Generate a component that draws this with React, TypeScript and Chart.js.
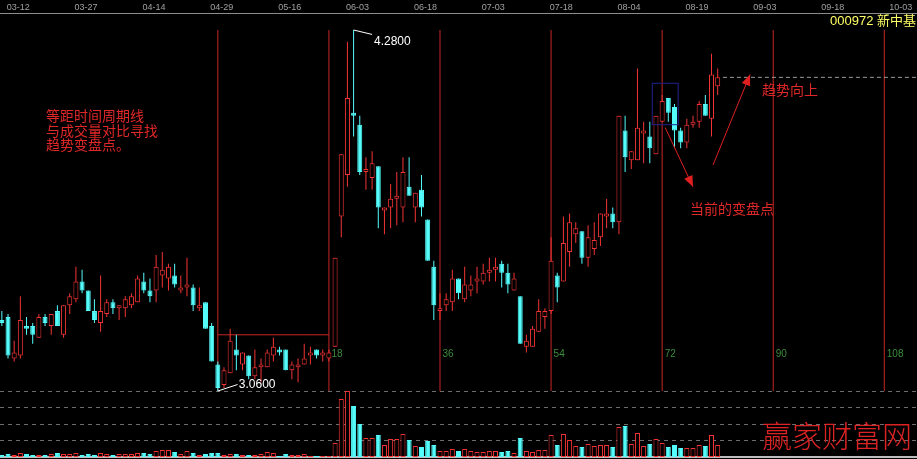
import React, { useEffect, useRef } from 'react';
import { Chart, registerables } from 'chart.js';
Chart.register(...registerables);

// ---- data ----
const opens = [
  3.30, 3.31, 3.17, 3.18, 3.28, 3.28, 3.24, 3.31, 3.28, 3.33,
  3.25, 3.35, 3.37, 3.43, 3.40, 3.33, 3.29, 3.32, 3.36, 3.34,
  3.34, 3.35, 3.36, 3.43, 3.40, 3.40, 3.45, 3.44, 3.45, 3.40,
  3.41, 3.41, 3.34, 3.36, 3.28, 3.15, 3.08, 3.12, 3.20, 3.15,
  3.18, 3.11, 3.14, 3.14, 3.18, 3.20, 3.20, 3.13, 3.14, 3.15,
  3.18, 3.20, 3.18, 3.17, 3.21, 3.65, 3.79, 4.00, 3.96, 3.80,
  3.78, 3.82, 3.67, 3.68, 3.71, 3.68, 3.75, 3.68, 3.74, 3.64,
  3.48, 3.33, 3.35, 3.36, 3.44, 3.37, 3.40, 3.43, 3.43, 3.46,
  3.47, 3.49, 3.46, 3.40, 3.38, 3.21, 3.21, 3.26, 3.31, 3.33,
  3.45, 3.43, 3.53, 3.59, 3.60, 3.51, 3.54, 3.58, 3.65, 3.66,
  3.63, 3.94, 3.84, 3.84, 3.93, 3.92, 3.86, 3.97, 4.05, 4.02,
  3.94, 3.90, 3.96, 3.97, 4.03, 3.98, 4.09,
];
const highs = [
  3.33, 3.32, 3.23, 3.38, 3.31, 3.29, 3.32, 3.32, 3.32, 3.35,
  3.35, 3.39, 3.48, 3.47, 3.40, 3.37, 3.45, 3.37, 3.37, 3.35,
  3.38, 3.39, 3.45, 3.46, 3.44, 3.52, 3.53, 3.49, 3.49, 3.45,
  3.51, 3.42, 3.41, 3.36, 3.29, 3.16, 3.14, 3.27, 3.25, 3.19,
  3.18, 3.20, 3.17, 3.20, 3.24, 3.21, 3.20, 3.16, 3.17, 3.22,
  3.21, 3.20, 3.20, 3.20, 3.51, 3.86, 4.24, 4.28, 3.99, 3.85,
  3.87, 3.82, 3.68, 3.76, 3.80, 3.85, 3.85, 3.73, 3.79, 3.64,
  3.50, 3.39, 3.39, 3.47, 3.44, 3.48, 3.45, 3.48, 3.49, 3.51,
  3.51, 3.50, 3.49, 3.46, 3.38, 3.25, 3.28, 3.37, 3.34, 3.58,
  3.46, 3.65, 3.66, 3.63, 3.60, 3.62, 3.63, 3.66, 3.71, 3.68,
  3.99, 3.99, 3.87, 4.15, 3.97, 3.97, 3.99, 4.06, 4.05, 4.03,
  3.95, 3.98, 3.99, 4.04, 4.06, 4.20, 4.15,
];
const lows = [
  3.28, 3.17, 3.16, 3.17, 3.25, 3.22, 3.24, 3.28, 3.25, 3.28,
  3.24, 3.32, 3.36, 3.39, 3.33, 3.29, 3.26, 3.31, 3.32, 3.30,
  3.31, 3.34, 3.36, 3.39, 3.36, 3.36, 3.41, 3.40, 3.41, 3.39,
  3.38, 3.33, 3.33, 3.27, 3.16, 3.06, 3.07, 3.12, 3.13, 3.13,
  3.10, 3.10, 3.09, 3.14, 3.16, 3.18, 3.13, 3.10, 3.09, 3.15,
  3.15, 3.17, 3.16, 3.16, 3.21, 3.58, 3.75, 3.92, 3.79, 3.74,
  3.74, 3.61, 3.59, 3.61, 3.62, 3.63, 3.72, 3.63, 3.65, 3.50,
  3.30, 3.30, 3.33, 3.33, 3.37, 3.36, 3.38, 3.39, 3.42, 3.43,
  3.43, 3.41, 3.39, 3.40, 3.22, 3.19, 3.21, 3.26, 3.27, 3.32,
  3.36, 3.43, 3.48, 3.56, 3.49, 3.48, 3.52, 3.55, 3.61, 3.61,
  3.59, 3.80, 3.81, 3.84, 3.83, 3.83, 3.86, 3.97, 3.97, 3.88,
  3.88, 3.88, 3.95, 3.95, 3.99, 3.92, 4.06,
];
const closes = [
  3.29, 3.18, 3.19, 3.30, 3.27, 3.25, 3.31, 3.29, 3.32, 3.28,
  3.35, 3.38, 3.43, 3.40, 3.33, 3.30, 3.33, 3.36, 3.34, 3.35,
  3.37, 3.38, 3.44, 3.40, 3.38, 3.48, 3.47, 3.48, 3.42, 3.41,
  3.42, 3.35, 3.35, 3.27, 3.16, 3.07, 3.13, 3.23, 3.18, 3.19,
  3.11, 3.14, 3.15, 3.19, 3.21, 3.19, 3.13, 3.15, 3.15, 3.17,
  3.19, 3.18, 3.19, 3.19, 3.51, 3.86, 4.05, 3.99, 3.80, 3.81,
  3.83, 3.68, 3.68, 3.71, 3.72, 3.80, 3.72, 3.73, 3.68, 3.50,
  3.35, 3.34, 3.37, 3.44, 3.39, 3.42, 3.42, 3.44, 3.46, 3.47,
  3.48, 3.46, 3.42, 3.44, 3.22, 3.23, 3.27, 3.33, 3.33, 3.50,
  3.41, 3.56, 3.63, 3.61, 3.51, 3.58, 3.57, 3.66, 3.66, 3.63,
  3.99, 3.85, 3.87, 3.95, 3.94, 3.88, 3.99, 4.04, 4.00, 3.94,
  3.90, 3.96, 3.97, 4.03, 3.99, 4.13, 4.12,
];
// volume, 万手
const volumes = [
  2, 3, 2, 4, 3, 2, 2, 2, 3, 4,
  3, 3, 4, 2, 3, 2, 4, 3, 2, 3,
  3, 3, 4, 4, 3, 6, 7, 7, 5, 3,
  6, 4, 2, 3, 4, 4, 2, 3, 3, 2,
  2, 2, 3, 5, 4, 1, 3, 2, 2, 3,
  1, 1, 1, 1, 14, 58, 66, 51, 33, 19,
  19, 22, 12, 18, 18, 23, 17, 11, 10, 16,
  12, 6, 6, 8, 6, 8, 6, 5, 5, 6,
  6, 5, 6, 4, 19, 6, 5, 7, 7, 22,
  12, 23, 17, 11, 10, 13, 11, 12, 12, 10,
  30, 31, 13, 24, 11, 13, 18, 14, 10, 12,
  9, 9, 9, 12, 11, 22, 12,
];
const dateLabels = ['03-12', '03-27', '04-14', '04-29', '05-16', '06-03', '06-18', '07-03', '07-18', '08-04', '08-19', '09-03', '09-18', '10-03'];
const dateTickIdx = [2, 13, 24, 35, 46, 57, 68, 79, 90, 101, 112, 123, 134, 145];
const cycleIdx = [35, 53, 71, 89, 107, 125, 143];
const cycleLabels = ['', '18', '36', '54', '72', '90', '108'];
const cycleRange = [3.06, 4.28];
const boxLevel = 3.25;
const lastLevel = 4.12;
const volGrid = [16.5, 33, 49.5, 66];
const stockTitle = '000972 新中基';
const noteLines = ['等距时间周期线', '与成交量对比寻找', '趋势变盘点。'];
const noteTurn = '当前的变盘点';
const noteUp = '趋势向上';
const highLabel = '4.2800';
const lowLabel = '3.0600';
const watermark = '赢家财富网';

// ---- styles ----
const RED = '#f43434';
const CYAN = '#54fcfc';
const CYCLE = '#c82626';
const TXT_RED = '#e02828';
const SLOTS_MIN = -0.3;
const SLOTS_MAX = 148.3;

const up = closes.map((c, i) => c >= opens[i]);

const annotations = {
  id: 'annotations',
  beforeDraw(chart: any) {
    const { ctx } = chart;
    ctx.save();
    ctx.fillStyle = '#000';
    ctx.fillRect(0, 0, chart.width, chart.height);
    ctx.restore();
  },
  afterDatasetsDraw(chart: any) {
    const { ctx } = chart;
    const x = chart.scales.x;
    const y = chart.scales.y;
    const px = (v: number) => x.getPixelForValue(v);
    const py = (v: number) => y.getPixelForValue(v);
    ctx.save();

    // cycle numbers
    ctx.font = '10px "Liberation Sans", Arial, sans-serif';
    ctx.fillStyle = '#3c8c3c';
    ctx.textAlign = 'left';
    ctx.textBaseline = 'middle';
    cycleIdx.forEach((c, k) => {
      if (cycleLabels[k]) ctx.fillText(cycleLabels[k], px(c) + 2.5, py(3.185));
    });

    // high / low labels
    ctx.strokeStyle = '#ffffff';
    ctx.lineWidth = 1;
    ctx.beginPath();
    ctx.moveTo(px(57), py(4.28));
    ctx.lineTo(px(60), py(4.265));
    ctx.stroke();
    ctx.beginPath();
    ctx.moveTo(px(35), py(3.06));
    ctx.lineTo(px(38.2), py(3.082));
    ctx.stroke();
    ctx.fillStyle = '#ffffff';
    ctx.font = '12px "Liberation Sans", Arial, sans-serif';
    ctx.fillText(highLabel, px(60.3), py(4.24));
    ctx.fillText(lowLabel, px(38.4), py(3.08));

    // blue box
    ctx.strokeStyle = '#22228c';
    ctx.strokeRect(px(105.4), py(4.10), px(109.6) - px(105.4), py(3.96) - py(4.10));

    // arrows
    const arrow = (x1: number, y1: number, x2: number, y2: number) => {
      ctx.strokeStyle = '#e02020';
      ctx.fillStyle = '#e02020';
      ctx.lineWidth = 1;
      ctx.beginPath();
      ctx.moveTo(x1, y1);
      ctx.lineTo(x2, y2);
      ctx.stroke();
      const a = Math.atan2(y2 - y1, x2 - x1);
      const L = 11, W = 4.5;
      ctx.beginPath();
      ctx.moveTo(x2, y2);
      ctx.lineTo(x2 - L * Math.cos(a) + W * Math.sin(a), y2 - L * Math.sin(a) - W * Math.cos(a));
      ctx.lineTo(x2 - L * Math.cos(a) - W * Math.sin(a), y2 - L * Math.sin(a) + W * Math.cos(a));
      ctx.closePath();
      ctx.fill();
    };
    arrow(px(107.5), py(3.95), px(112.0), py(3.75));
    arrow(px(115.25), py(3.824), px(121.25), py(4.13));

    // red notes
    ctx.fillStyle = TXT_RED;
    ctx.font = '14px "Noto Sans CJK SC", sans-serif';
    ctx.textBaseline = 'middle';
    noteLines.forEach((t, k) => ctx.fillText(t, px(7.15), py(3.99) + k * 14.5));
    ctx.fillText(noteTurn, px(111.5), py(3.675));
    ctx.fillText(noteUp, px(123.2), py(4.078));

    // title
    ctx.fillStyle = '#ffff66';
    ctx.font = '13px "Liberation Sans", "Noto Sans CJK SC", sans-serif';
    ctx.textAlign = 'right';
    ctx.fillText(stockTitle, chart.width - 1, chart.chartArea.top + 8);

    // watermark
    ctx.fillStyle = '#dc2222';
    ctx.font = '300 30px "Noto Sans CJK SC", sans-serif';
    ctx.fillText(watermark, chart.width - 5, chart.height - 23);

    ctx.restore();
  },
};

export default function App() {
  const ref = useRef<HTMLCanvasElement>(null);
  useEffect(() => {
    document.body.style.margin = '0';
    document.body.style.background = '#000';
    const barBase = {
      type: 'bar' as const,
      grouped: false,
      barPercentage: 1,
      categoryPercentage: 1,
      inflateAmount: 0,
      borderSkipped: false,
      xAxisID: 'x',
    };
    const chart = new Chart(ref.current as HTMLCanvasElement, {
      type: 'bar',
      data: {
        datasets: [
          {
            ...barBase,
            label: 'body',
            data: opens.map((o, i) => ({ x: i, y: [o, closes[i]] })) as any,
            backgroundColor: up.map((u) => (u ? '#000000' : CYAN)),
            borderColor: up.map((u) => (u ? RED : CYAN)),
            borderWidth: 1,
            maxBarThickness: 5,
            yAxisID: 'y',
            order: 0,
          },
          {
            ...barBase,
            label: 'wick',
            data: lows.map((l, i) => ({ x: i, y: [l, highs[i]] })) as any,
            backgroundColor: up.map((u) => (u ? RED : CYAN)),
            borderWidth: 0,
            maxBarThickness: 1,
            yAxisID: 'y',
            order: 1,
          },
          {
            ...barBase,
            label: 'volume',
            data: volumes.map((v, i) => ({ x: i, y: v })) as any,
            backgroundColor: up.map((u) => (u ? '#000000' : CYAN)),
            borderColor: up.map((u) => (u ? RED : CYAN)),
            borderWidth: 1,
            maxBarThickness: 5,
            yAxisID: 'yv',
            order: 0,
          },
          {
            ...barBase,
            label: 'cycle',
            data: cycleIdx.map((c) => ({ x: c, y: cycleRange })) as any,
            backgroundColor: CYCLE,
            borderWidth: 0,
            maxBarThickness: 1,
            yAxisID: 'y',
            order: 3,
          },
          {
            type: 'line' as const,
            label: 'box',
            data: [{ x: cycleIdx[0], y: boxLevel }, { x: cycleIdx[1], y: boxLevel }],
            borderColor: CYCLE,
            borderWidth: 1,
            pointRadius: 0,
            xAxisID: 'x',
            yAxisID: 'y',
            order: 2,
          },
          {
            type: 'line' as const,
            label: 'last',
            data: [{ x: 116.85, y: lastLevel }, { x: SLOTS_MAX, y: lastLevel }],
            borderColor: '#9a9a9a',
            borderWidth: 1,
            borderDash: [4, 3],
            pointRadius: 0,
            xAxisID: 'x',
            yAxisID: 'y',
            order: 2,
          },
        ] as any,
      },
      options: {
        responsive: false,
        animation: false,
        events: [],
        layout: { padding: 0 },
        plugins: { legend: { display: false }, tooltip: { enabled: false } },
        scales: {
          x: {
            type: 'linear',
            position: 'top',
            offset: false,
            min: SLOTS_MIN,
            max: SLOTS_MAX,
            grid: { display: false, drawTicks: false, offset: false },
            border: { display: true, color: '#8c8c8c', width: 1 },
            afterBuildTicks: (s: any) => {
              s.ticks = dateTickIdx.map((v) => ({ value: v }));
            },
            afterFit: (s: any) => {
              s.height = 13;
            },
            ticks: {
              autoSkip: false,
              maxRotation: 0,
              padding: 0,
              labelOffset: 4,
              color: '#a0a0a0',
              font: { size: 9, family: '"Liberation Sans", Arial, sans-serif' },
              callback: (_v: any, i: number) => dateLabels[i],
            },
          },
          xb: {
            type: 'linear',
            position: 'bottom',
            display: true,
            offset: false,
            grid: { display: false, drawTicks: false },
            ticks: { display: false },
            border: { display: true, color: '#bdbdbd', width: 2 },
            afterFit: (s: any) => {
              s.height = 2;
            },
          },
          y: {
            type: 'linear',
            display: false,
            min: 2.837,
            max: 4.3375,
          },
          yv: {
            type: 'linear',
            position: 'right',
            display: true,
            min: 0,
            max: 444,
            grid: { color: '#6e6e6e', lineWidth: 1, drawTicks: false },
            border: { display: false, dash: [4, 4] },
            ticks: { display: false },
            afterBuildTicks: (s: any) => {
              s.ticks = volGrid.map((v) => ({ value: v }));
            },
            afterFit: (s: any) => {
              s.width = 0;
            },
          },
        } as any,
      },
      plugins: [annotations],
    });
    return () => chart.destroy();
  }, []);
  return (
    <div style={{ width: 917, height: 459, background: '#000' }}>
      <canvas ref={ref} width={917} height={459} style={{ display: 'block' }} />
    </div>
  );
}
